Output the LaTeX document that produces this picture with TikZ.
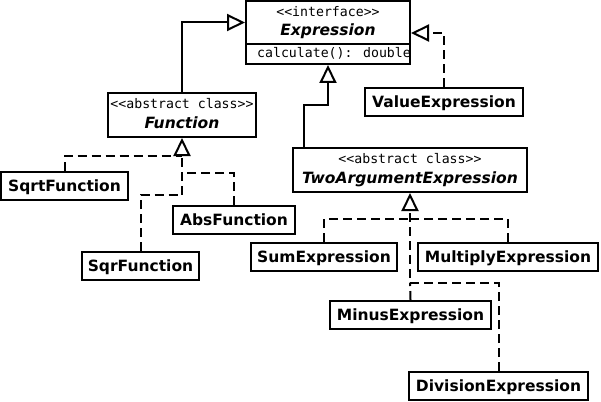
\documentclass[tikz,border=0pt]{standalone}
\usepackage{fontspec}
\setmainfont{DejaVu Sans}[BoldFont={DejaVu Sans Bold},ItalicFont={DejaVu Sans Oblique},BoldItalicFont={DejaVu Sans Bold Oblique}]
\newfontfamily\monof{DejaVu Sans Mono}
\usetikzlibrary{arrows.meta}
\begin{document}
\begin{tikzpicture}[x=1pt,y=-1pt,
  box/.style={draw,line width=2pt,inner sep=0pt,fill=white},
  cls/.style={box,font=\fontsize{15.5}{18}\selectfont\bfseries,text height=11.3pt,text depth=0pt},
  stereo/.style={font=\monof\fontsize{13.2}{15}\selectfont,anchor=base,inner sep=0pt},
  aname/.style={font=\fontsize{15.5}{18}\selectfont\bfseries\itshape,anchor=base,inner sep=0pt},
  link/.style={line width=2pt},
  dashedlink/.style={link,dash pattern=on 9pt off 5pt},
  gen/.style={link,-{Triangle[open,length=18pt,width=17pt]}},
  real/.style={gen,dash pattern=on 9pt off 5pt}]
\useasboundingbox (0,0) rectangle (601,401);
% interface
\node[box,minimum width=164pt,minimum height=43pt] (expr) at (328,22.5) {};
\node[box,minimum width=164pt,minimum height=20pt] (exprm) at (328,54) {};
\node[stereo] (exprs) at (328,17) {<<interface>>};
\node[aname] (exprn) at (328,35.5) {Expression};
\node[stereo,anchor=base west] (exprc) at (257,58) {calculate(): double};
% Function
\node[box,minimum width=148pt,minimum height=44pt] (func) at (182,115) {};
\node[stereo] (funcs) at (182,108.5) {<<abstract class>>};
\node[aname] (funcn) at (182,128) {Function};
% TwoArgumentExpression
\node[box,minimum width=234pt,minimum height=44pt] (two) at (410,170) {};
\node[stereo] (twos) at (410,163.5) {<<abstract class>>};
\node[aname] (twon) at (410,183) {TwoArgumentExpression};
% concrete classes
\node[cls,minimum width=158pt,minimum height=28pt] (val) at (444,102) {ValueExpression};
\node[cls,minimum width=127pt,minimum height=28pt] (sqrt) at (64.5,186) {SqrtFunction};
\node[cls,minimum width=117pt,minimum height=28pt] (sqr) at (140.5,266) {SqrFunction};
\node[cls,minimum width=122pt,minimum height=28pt] (abs) at (234,220) {AbsFunction};
\node[cls,minimum width=146pt,minimum height=28pt] (sum) at (324,257) {SumExpression};
\node[cls,minimum width=180pt,minimum height=28pt] (mult) at (508,257) {MultiplyExpression};
\node[cls,minimum width=161pt,minimum height=28pt] (minus) at (410.5,315) {MinusExpression};
\node[cls,minimum width=179pt,minimum height=28pt] (div) at (498.5,386) {DivisionExpression};
% generalizations
\draw[gen] (func.north) |- (expr.west);
\draw[gen] ([xshift=-106pt]two.north) -- ++(0,42pt) -| (exprm.south);
\draw[real] (val.north) |- ([yshift=-10.5pt]expr.east);
% Function realizations (trunk from SqrFunction)
\draw[real] (sqr.north) |- ([yshift=-57pt]func.south) -- (func.south);
\draw[dashedlink] (sqrt.north) |- ([yshift=-18pt]func.south);
\draw[dashedlink] (abs.north) |- ([yshift=-35pt]func.south);
% TwoArgumentExpression realizations (trunk from DivisionExpression)
\draw[real] (div.north) |- ([yshift=-90pt]two.south) -- (two.south);
\draw[dashedlink] (minus.north) -- ([yshift=-90pt]two.south);
\draw[dashedlink] (sum.north) |- ([yshift=-26pt]two.south);
\draw[dashedlink] (mult.north) |- ([yshift=-26pt]two.south);
\end{tikzpicture}
\end{document}
